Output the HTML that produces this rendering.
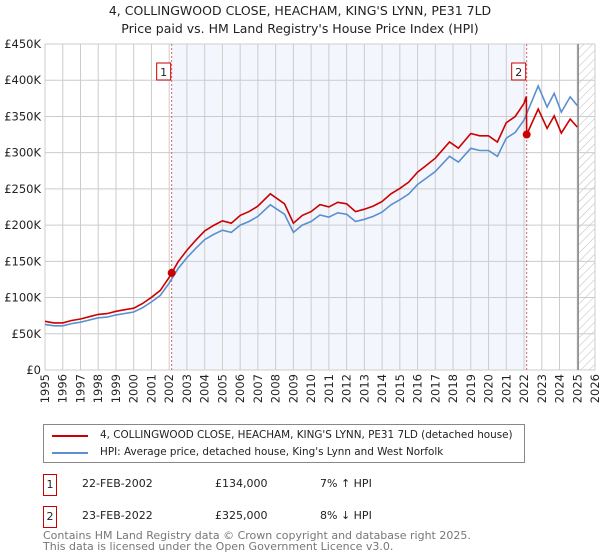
<!DOCTYPE html>
<html><head><meta charset="utf-8"><style>
body{margin:0;background:#fff;font-family:"DejaVu Sans","Liberation Sans",sans-serif;}
#wrap{position:relative;width:600px;height:560px;overflow:hidden;}
.t{position:absolute;white-space:nowrap;color:#222;}
</style></head><body><div id="wrap">
<div class="t" style="left:0;width:600px;text-align:center;top:3px;font-size:12.5px">4, COLLINGWOOD CLOSE, HEACHAM, KING'S LYNN, PE31 7LD</div>
<div class="t" style="left:0;width:600px;text-align:center;top:21px;font-size:12.5px">Price paid vs. HM Land Registry's House Price Index (HPI)</div>
<svg id="svg" width="600" height="410" style="position:absolute;left:0;top:0"></svg>
<div style="position:absolute;left:43px;top:424px;width:480px;height:37px;border:1px solid #888;font-size:10.4px;">
<div style="position:absolute;left:8px;top:10px;width:36px;height:2px;background:#c00"></div>
<div class="t" style="left:56px;top:4px">4, COLLINGWOOD CLOSE, HEACHAM, KING'S LYNN, PE31 7LD (detached house)</div>
<div style="position:absolute;left:8px;top:27px;width:36px;height:2px;background:#5b8fd0"></div>
<div class="t" style="left:56px;top:21px">HPI: Average price, detached house, King's Lynn and West Norfolk</div>
</div>
<div style="font-size:11px">
<div class="t" style="left:43px;top:474px;width:12px;height:20px;border:1px solid #c00;text-align:center;line-height:20px">1</div>
<div class="t" style="left:82px;top:477px">22-FEB-2002</div>
<div class="t" style="left:215px;top:477px">£134,000</div>
<div class="t" style="left:320px;top:477px">7% ↑ HPI</div></div>
<div style="font-size:11px">
<div class="t" style="left:43px;top:506px;width:12px;height:20px;border:1px solid #c00;text-align:center;line-height:20px">2</div>
<div class="t" style="left:82px;top:509px">23-FEB-2022</div>
<div class="t" style="left:215px;top:509px">£325,000</div>
<div class="t" style="left:320px;top:509px">8% ↓ HPI</div></div>
<div class="t" style="left:43px;top:530px;font-size:11px;color:#777;line-height:11px">Contains HM Land Registry data © Crown copyright and database right 2025.<br>This data is licensed under the Open Government Licence v3.0.</div>
</div>
<script>
const hpiYears=[1995,1995.5,1996,1996.5,1997,1997.5,1998,1998.5,1999,1999.5,2000,2000.5,2001,2001.5,2002,2002.5,2003,2003.5,2004,2004.5,2005,2005.5,2006,2006.5,2007,2007.7,2008.5,2009,2009.5,2010,2010.5,2011,2011.5,2012,2012.5,2013,2013.5,2014,2014.5,2015,2015.5,2016,2016.5,2017,2017.8,2018.3,2019,2019.5,2020,2020.5,2021,2021.5,2022,2022.8,2023.3,2023.7,2024.1,2024.6,2025];
const hpiValues=[63,61,61,64,66,69,72,73,76,78,80,86,94,103,120,140,155,168,180,187,193,190,200,205,212,228,215,190,200,205,214,211,217,215,205,208,212,218,228,235,243,256,265,274,295,287,306,303,303,295,320,328,345,392,363,382,356,377,365];
const sales=[{t:2002.14,v:134,label:"1"},{t:2022.15,v:325,label:"2"}];
const yTicks=[0,50,100,150,200,250,300,350,400,450];
const yTickLabels=["£0","£50K","£100K","£150K","£200K","£250K","£300K","£350K","£400K","£450K"];
const xTicks=[1995,1996,1997,1998,1999,2000,2001,2002,2003,2004,2005,2006,2007,2008,2009,2010,2011,2012,2013,2014,2015,2016,2017,2018,2019,2020,2021,2022,2023,2024,2025,2026];
const X0=45,X1=595,Y0=370,Y1=44;
const xs=t=>X0+(t-1995)/(2026-1995)*(X1-X0);
const ys=v=>Y0-v/450*(Y0-Y1);
const NS="http://www.w3.org/2000/svg",svg=document.getElementById('svg');
function mk(tag,at){const e=document.createElementNS(NS,tag);for(const k in at)e.setAttribute(k,at[k]);svg.appendChild(e);return e;}
function hpiAt(t){for(let i=0;i<hpiYears.length-1;i++){if(t<=hpiYears[i+1]){const f=(t-hpiYears[i])/(hpiYears[i+1]-hpiYears[i]);return hpiValues[i]+f*(hpiValues[i+1]-hpiValues[i]);}}return hpiValues[hpiValues.length-1];}
let e=mk('rect',{x:xs(sales[0].t),y:Y1,width:xs(sales[1].t)-xs(sales[0].t),height:Y0-Y1,fill:'#eef3fc',opacity:0.7});


const defs=mk('defs',{});defs.innerHTML='<pattern id="hp" width="6" height="6" patternUnits="userSpaceOnUse" patternTransform="rotate(45)"><line x1="0" y1="0" x2="0" y2="6" stroke="#bbb" stroke-width="1"/></pattern>';
e=mk('rect',{x:xs(2025.05),y:Y1,width:X1-xs(2025.05),height:Y0-Y1,fill:'url(#hp)'});


xTicks.forEach(t=>{let l=mk('line',{x1:xs(t),x2:xs(t),y1:Y1,y2:Y0,stroke:'#ccc'});


const x=xs(t)+4,y=374;
let tx=mk('text',{x:x,y:y,'font-size':11.5,'text-anchor':'end',fill:'#222','font-family':'DejaVu Sans, sans-serif',transform:'rotate(-90 '+x+' '+y+')'});tx.textContent=t;

});
yTicks.forEach((v,i)=>{let l=mk('line',{x1:X0,x2:X1,y1:ys(v),y2:ys(v),stroke:'#ccc'});


let tx=mk('text',{x:41,y:ys(v)+4,'font-size':11.5,'text-anchor':'end',fill:'#222','font-family':'DejaVu Sans, sans-serif'});tx.textContent=yTickLabels[i];

});
e=mk('line',{x1:xs(2025.05),x2:xs(2025.05),y1:Y1,y2:Y0,stroke:'#888','stroke-width':1.5});


sales.forEach(s=>{let l=mk('line',{x1:xs(s.t),x2:xs(s.t),y1:Y1,y2:Y0,stroke:'#e06060','stroke-dasharray':'2,2'});

});
let d=hpiYears.map((t,i)=>(i?'L':'M')+xs(t).toFixed(1)+','+ys(hpiValues[i]).toFixed(1)).join('');
e=mk('path',{d:d,fill:'none',stroke:'#5b8fd0','stroke-width':1.6});


const r1=sales[0].v/hpiAt(sales[0].t),r2=sales[1].v/hpiAt(sales[1].t);
let pts=[];hpiYears.forEach((t,i)=>{if(t<sales[1].t)pts.push([t,hpiValues[i]*r1]);});
pts.push([sales[1].t-0.02,hpiAt(sales[1].t)*r1]);pts.push([sales[1].t,sales[1].v]);
hpiYears.forEach((t,i)=>{if(t>sales[1].t)pts.push([t,hpiValues[i]*r2]);});
d=pts.map((p,i)=>(i?'L':'M')+xs(p[0]).toFixed(1)+','+ys(p[1]).toFixed(1)).join('');
e=mk('path',{d:d,fill:'none',stroke:'#cc0000','stroke-width':1.6});


sales.forEach(s=>{let c=mk('circle',{cx:xs(s.t),cy:ys(s.v),r:4,fill:'#cc0000'});


let b=mk('rect',{x:xs(s.t)-15,y:63,width:14,height:17,fill:'#fff',stroke:'#c00'});


let tx=mk('text',{x:xs(s.t)-8,y:76,'font-size':11,'text-anchor':'middle',fill:'#222','font-family':'DejaVu Sans, sans-serif'});tx.textContent=s.label;

});
</script></body></html>
